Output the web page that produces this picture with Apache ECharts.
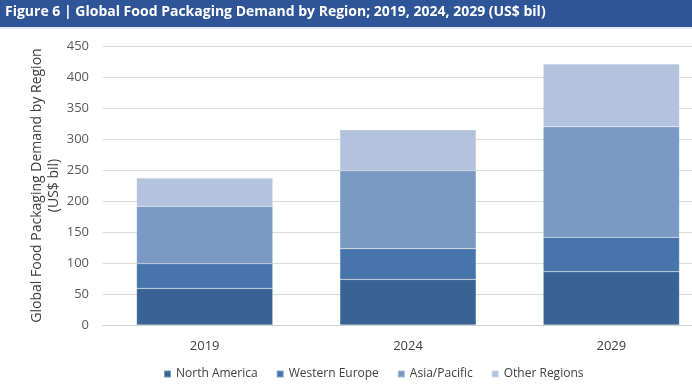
<!DOCTYPE html>
<html><head><meta charset="utf-8">
<script src="https://cdn.jsdelivr.net/npm/echarts@6/dist/echarts.min.js"></script>
<style>html,body{margin:0;padding:0;background:#fff}#c{width:692px;height:386px}</style>
</head><body><div id="c"></div>
<script>
const categories = ['2019', '2024', '2029'];
const northAmerica = [59, 73.5, 86];
const westernEurope = [40, 49.5, 55.5];
const asiaPacific = [92.5, 126, 178.5];
const otherRegions = [45.5, 66, 101];
const yTicks = { min: 0, max: 450, interval: 50 };

const font = '"Open Sans", "Noto Sans", sans-serif';
const chart = echarts.init(document.getElementById('c'), null, { renderer: 'canvas' });
const mk = (name, data, color) => ({
  name, type: 'bar', stack: 'total', data, barWidth: '67%',
  itemStyle: { color, borderColor: 'rgba(255,255,255,0.35)', borderWidth: 0.5 }
});
chart.setOption({
  animation: false,
  graphic: [
    { type: 'rect', shape: { x: 0, y: 0, width: 692, height: 27 }, style: { fill: '#2d5597' } },
    { type: 'rect', shape: { x: 0, y: 27, width: 692, height: 2 }, style: { fill: '#e4e8ee' } },
    { type: 'text', left: 5, top: 5, style: { text: 'Figure 6 | Global Food Packaging Demand by Region; 2019, 2024, 2029 (US$ bil)', fill: '#ffffff', font: 'bold 14px ' + font } }
  ],
  grid: { left: 103, top: 46, width: 610, bottom: 61, outerBoundsMode: 'none', containLabel: false },
  legend: {
    bottom: 1, left: 158, itemWidth: 7, itemHeight: 7, itemGap: 18,
    textStyle: { color: '#404040', fontSize: 12, fontFamily: font },
    icon: 'rect'
  },
  xAxis: {
    type: 'category', data: categories,
    axisLine: { lineStyle: { color: '#d0d0d0' } }, axisTick: { show: false },
    axisLabel: { color: '#404040', fontSize: 13, fontFamily: font, margin: 15 }
  },
  yAxis: {
    type: 'value', min: yTicks.min, max: yTicks.max, interval: yTicks.interval,
    name: 'Global Food Packaging Demand by Region\n(US$ bil)',
    nameLocation: 'middle', nameGap: 40, nameRotate: 90, nameMoveOverlap: false,
    nameTextStyle: { color: '#404040', fontSize: 14, fontFamily: font, lineHeight: 17 },
    axisLine: { show: false }, axisTick: { show: false },
    axisLabel: { color: '#595959', fontSize: 13, fontFamily: font, margin: 14 },
    splitLine: { lineStyle: { color: '#d9d9d9' } }
  },
  series: [
    mk('North America', northAmerica, '#3a6395'),
    mk('Western Europe', westernEurope, '#4674ab'),
    mk('Asia/Pacific', asiaPacific, '#7a99c4'),
    mk('Other Regions', otherRegions, '#b3c2dd')
  ]
});
</script></body></html>
